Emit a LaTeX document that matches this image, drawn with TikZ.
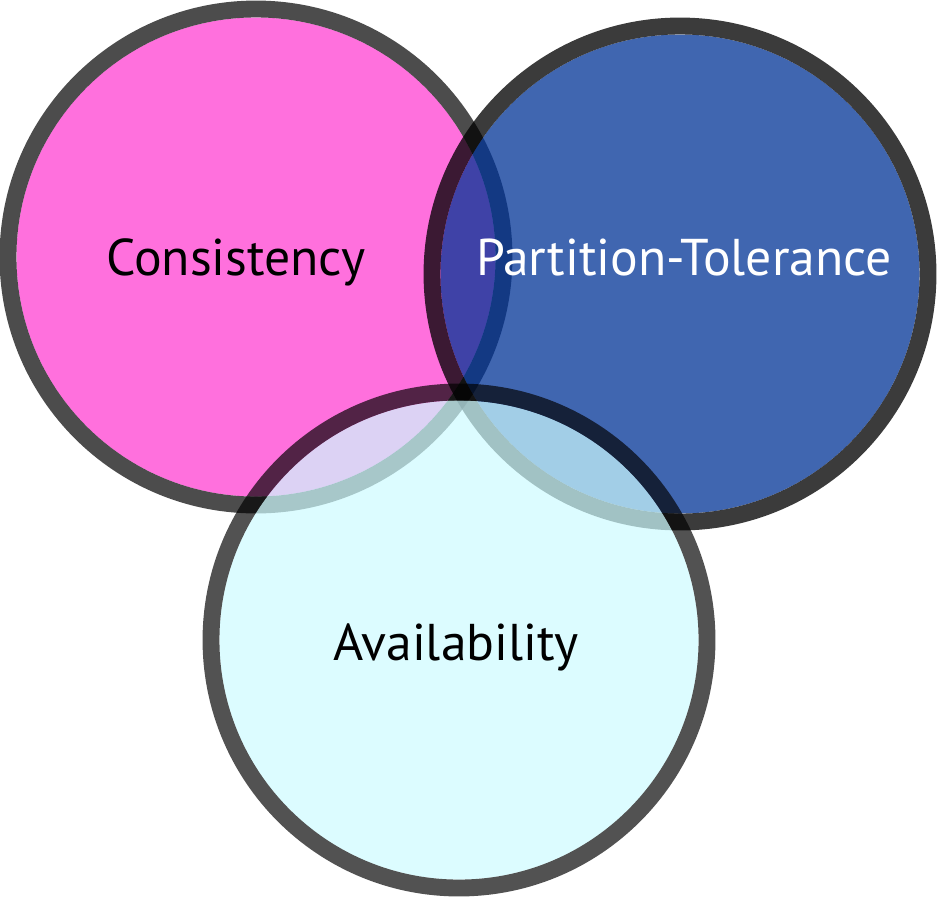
\documentclass[tikz,border=0pt]{standalone}
\usepackage{fontspec}
\setmainfont{PT Sans}
\usetikzlibrary{positioning}

\definecolor{capPink}{RGB}{255,51,206}
\definecolor{capBlue}{RGB}{0,51,150}
\definecolor{capCyan}{RGB}{205,251,255}

\begin{document}
\begin{tikzpicture}[x=0.01cm, y=-0.01cm,
  capfill/.style={fill opacity=0.7},
  capring/.style={line width=4.8pt, draw=black, draw opacity=0.7},
  caplabel/.style={anchor=base, inner sep=0pt, font=\fontsize{14.7}{17}\selectfont}]
\useasboundingbox (0,0) rectangle (937,897);
\def\r{248}
\pgfmathsetmacro{\ri}{\r-8.5}
\coordinate (C) at (256,257);
\coordinate (P) at (680,274);
\coordinate (A) at (459,640);

% the three sets, last one on top
\fill[capfill, fill=capPink] (C) circle[radius=\ri];
\draw[capring] (C) circle[radius=\r];
\fill[capfill, fill=capBlue, fill opacity=0.75] (P) circle[radius=\ri];
\draw[capring, draw opacity=0.77] (P) circle[radius=\r];
\fill[capfill, fill=capCyan] (A) circle[radius=\ri];
\draw[capring, draw opacity=0.68] (A) circle[radius=\r];

\node[caplabel, text=black] (lblC) at (236,275) {Consistency};
\node[caplabel, text=white] (lblP) at (684,275) {Partition-Tolerance};
\node[caplabel, text=black] (lblA) at (456,660) {Availability};
\end{tikzpicture}
\end{document}
